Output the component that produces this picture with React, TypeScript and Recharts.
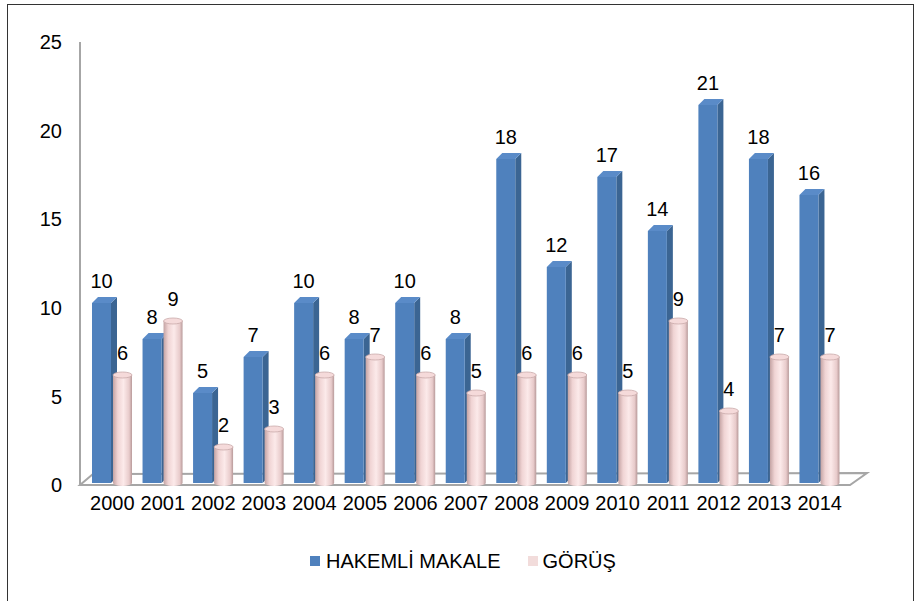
import { BarChart, Bar, XAxis, YAxis, LabelList, ReferenceLine, ReferenceArea } from "recharts";

const years = [
  "2000", "2001", "2002", "2003", "2004", "2005", "2006", "2007",
  "2008", "2009", "2010", "2011", "2012", "2013", "2014",
];
const hakemliMakale = [10, 8, 5, 7, 10, 8, 10, 8, 18, 12, 17, 14, 21, 18, 16];
const gorus = [6, 9, 2, 3, 6, 7, 6, 5, 6, 6, 5, 9, 4, 7, 7];
const yTicks = [0, 5, 10, 15, 20, 25];

const data = years.map((year, i) => ({
  year,
  hakemli: hakemliMakale[i],
  gorus: gorus[i],
}));

const FONT = "'Liberation Sans', Arial, sans-serif";
const W = 915;
const H = 601;
const PLOT_TOP = 33;
const PLOT_BOTTOM = 483;
const X_PAD = 7;
const DEPTH = 6;
const margin = { top: PLOT_TOP, right: 65, left: 20, bottom: H - PLOT_BOTTOM - 30 };

// blue box with a side and a top face, excel 3d style
const BoxBar = (props: any) => {
  const { x, y, width, height } = props;
  if (!height || height <= 0) return null;
  const d = DEPTH;
  return (
    <g>
      <polygon
        points={`${x + width},${y} ${x + width + d},${y - d} ${x + width + d},${y + height - d} ${x + width},${y + height}`}
        fill="#3B6593"
      />
      <polygon
        points={`${x},${y} ${x + d},${y - d} ${x + width + d},${y - d} ${x + width},${y}`}
        fill="#5A8BC8"
      />
      <rect x={x} y={y} width={width} height={height} fill="#4F81BD" />
    </g>
  );
};

const Cylinder = (props: any) => {
  const { x, y, width, height } = props;
  if (!height || height <= 0) return null;
  const rx = width / 2;
  const ry = 3;
  const cx = x + rx;
  return (
    <g>
      <path
        d={`M${x},${y} L${x},${y + height} A${rx},${ry} 0 0 0 ${x + width},${y + height} L${x + width},${y} Z`}
        fill="url(#cylGrad)"
      />
      <ellipse cx={cx} cy={y} rx={rx} ry={ry} fill="#F5DADA" stroke="#C9AAAA" strokeWidth={0.8} />
    </g>
  );
};

// floor of the 3d plot, drawn from the zero reference line
const Floor = (props: any) => {
  const { x1, x2, y1 } = props;
  const pts = `${x1},${y1 + 2} ${x2},${y1 + 2} ${x2 + 17},${y1 - 10} ${x1 + 13},${y1 - 9}`;
  return <polygon points={pts} fill="#fff" stroke="#A6A6A6" strokeWidth={2} />;
};

// back wall edge; the wall is a bit shorter than the bar scale
const Wall = (props: any) => {
  const { x, y, height } = props;
  const wx = x - X_PAD;
  return <line x1={wx} x2={wx} y1={y + 9} y2={y + height + 2} stroke="#A6A6A6" strokeWidth={2} />;
};

const YTick = (props: any) => {
  const { x, y, payload } = props;
  // ticks sit on the back wall, which is a touch shorter than the bars
  const yy = 485 - (PLOT_BOTTOM - y) * (443 / 450);
  return (
    <text x={x} y={yy} dy="0.355em" textAnchor="end" fontSize={20} fontFamily={FONT} fill="#000">
      {payload.value}
    </text>
  );
};

// same layout, only the wall and floor: sits under the bars
function FloorLayer() {
  return (
    <BarChart width={W} height={H} data={data} margin={margin}>
      <XAxis dataKey="year" padding={{ left: X_PAD, right: 5 }} axisLine={false} tickLine={false} tick={false} />
      <YAxis width={60} domain={[0, 25]} ticks={yTicks} axisLine={false} tickLine={false} tick={false} />
      <Bar dataKey="hakemli" fill="none" isAnimationActive={false} />
      <ReferenceArea y1={0} y2={25} shape={Wall} />
      <ReferenceLine y={0} shape={Floor} />
    </BarChart>
  );
}

export default function App() {
  return (
    <div style={{ position: "absolute", left: 0, top: 0, width: W, height: H, background: "#fff", overflow: "hidden" }}>
      <div
        style={{
          position: "absolute",
          left: 7,
          top: 4,
          width: 905,
          height: 640,
          border: "1px solid #333",
        }}
      />
      <div style={{ position: "absolute", left: 0, top: 0 }}>
        <FloorLayer />
      </div>
      <div style={{ position: "absolute", left: 0, top: 0 }}>
        <BarChart width={W} height={H} data={data} margin={margin} barSize={19} barGap={2}>
          <defs>
            <linearGradient id="cylGrad" x1="0" y1="0" x2="1" y2="0">
              <stop offset="0%" stopColor="#C4A3A3" />
              <stop offset="25%" stopColor="#F0D4D4" />
              <stop offset="55%" stopColor="#FCEAEA" />
              <stop offset="85%" stopColor="#E8CBCB" />
              <stop offset="100%" stopColor="#B89A9A" />
            </linearGradient>
          </defs>
          <XAxis
            dataKey="year"
            padding={{ left: X_PAD, right: 5 }}
            axisLine={false}
            tickLine={false}
            tickSize={0}
            tickMargin={13}
            interval={0}
            tick={{ fontSize: 20, fontFamily: FONT, fill: "#000" }}
          />
          <YAxis
            width={60}
            domain={[0, 25]}
            ticks={yTicks}
            axisLine={false}
            tickLine={false}
            tickSize={0}
            tickMargin={18}
            tick={YTick}
          />
          <Bar dataKey="hakemli" name="HAKEMLİ MAKALE" fill="#4F81BD" shape={BoxBar} isAnimationActive={false}>
            <LabelList dataKey="hakemli" position="top" offset={15} fontSize={20} fontFamily={FONT} fill="#000" />
          </Bar>
          <Bar dataKey="gorus" name="GÖRÜŞ" fill="#F2DCDB" shape={Cylinder} isAnimationActive={false}>
            <LabelList dataKey="gorus" position="top" offset={15} fontSize={20} fontFamily={FONT} fill="#000" />
          </Bar>
        </BarChart>
      </div>
      <div
        style={{
          position: "absolute",
          left: 310,
          top: 551,
          display: "flex",
          alignItems: "center",
          fontFamily: FONT,
          fontSize: 20,
          lineHeight: "20px",
          color: "#000",
        }}
      >
        <span style={{ width: 10, height: 10, background: "#4F81BD", marginRight: 6 }} />
        <span>HAKEMLİ MAKALE</span>
        <span style={{ width: 10, height: 10, background: "#F2DCDB", marginLeft: 27, marginRight: 5 }} />
        <span>GÖRÜŞ</span>
      </div>
    </div>
  );
}
